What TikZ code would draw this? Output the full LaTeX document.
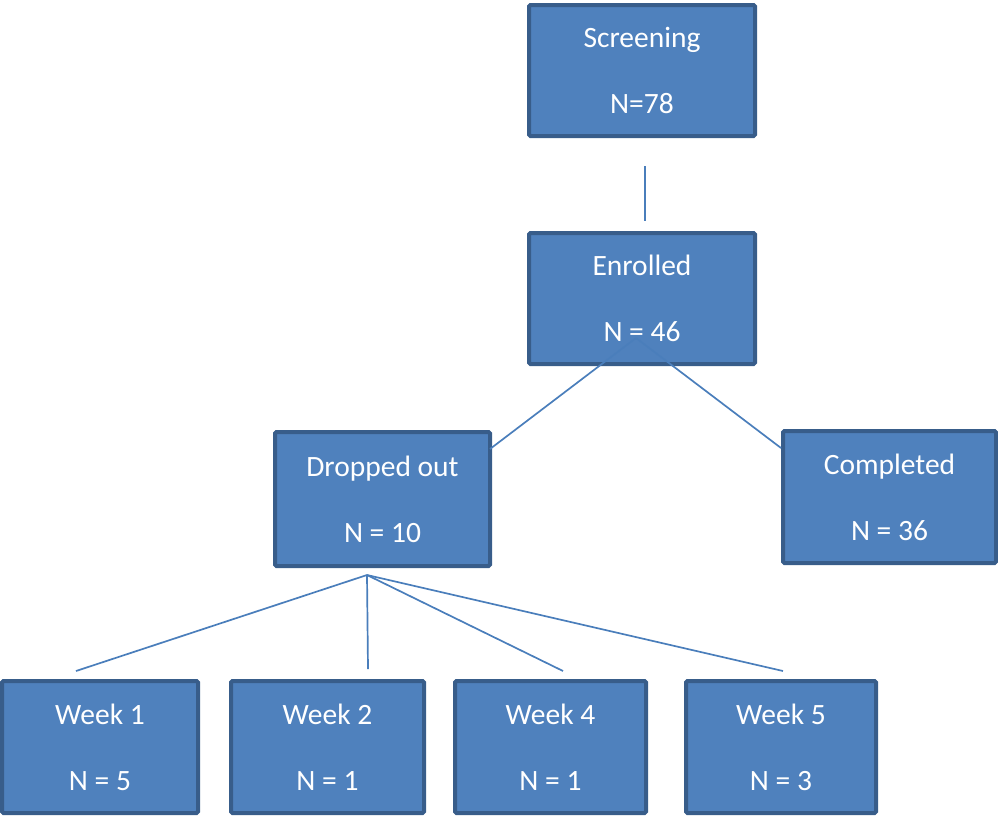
\documentclass[tikz,border=0pt]{standalone}
\usepackage{fontspec}
\setmainfont{Carlito}
\usepackage{xcolor}
\usetikzlibrary{positioning}

\definecolor{boxfill}{HTML}{4F81BD}
\definecolor{boxline}{HTML}{385D8A}
\definecolor{linkcol}{HTML}{4A7EBB}

\begin{document}
\begin{tikzpicture}[
  x=1pt, y=-1pt,
  font=\fontsize{29.5}{34}\selectfont,      % Calibri-like text
  stage/.style = {rectangle,
                  draw=boxline,
                  fill=boxfill,
                  line width=4pt,
                  rounded corners=1.5pt,
                  text=white,
                  align=center,
                  outer sep=0pt,
                  minimum width=226pt,
                  minimum height=131pt},
  week/.style  = {stage,
                  minimum width=193pt,
                  minimum height=132pt},
  link/.style  = {draw=linkcol, line width=1.7pt}
]
\useasboundingbox (0,0) rectangle (998,815);

\node[stage] (scr) at (642,70.5) {Screening\\[32pt]N=78};
\node[stage, below=97pt of scr] (enr) {Enrolled\\[32pt]N = 46};

\node[stage, minimum width=215pt, minimum height=134pt] (drop) at (382.5,499) {Dropped out\\[32pt]N = 10};
\node[stage, minimum width=213pt, minimum height=132pt] (comp) at (889.5,497) {Completed\\[32pt]N = 36};

\node[week, minimum width=196pt] (w1) at (100,747)   {Week 1\\[32pt]N = 5};
\node[week]                      (w2) at (327.5,747) {Week 2\\[32pt]N = 1};
\node[week, minimum width=191pt] (w4) at (550.5,747) {Week 4\\[32pt]N = 1};
\node[week, minimum width=190pt] (w5) at (781,747)   {Week 5\\[32pt]N = 3};

% branch points
\coordinate (split) at ([xshift=-6pt,yshift=-39.5pt]enr.center);
\coordinate (fork)  at ([xshift=-15.5pt,yshift=-9pt]drop.south);

\draw[link] ([xshift=3pt,yshift=-30pt]scr.south) -- ([xshift=3pt,yshift=12pt]enr.north);
\draw[link] (split) -- ([yshift=-17pt]drop.north east);
\draw[link] (split) -- ([xshift=-2pt,yshift=-17pt]comp.north west);

\draw[link] (fork) -- ([xshift=-24pt,yshift=10pt]w1.north);
\draw[link] (fork) -- ([xshift=40.5pt,yshift=12pt]w2.north);
\draw[link] (fork) -- ([xshift=12.5pt,yshift=10pt]w4.north);
\draw[link] (fork) -- ([xshift=2pt,yshift=10pt]w5.north);

\end{tikzpicture}
\end{document}
